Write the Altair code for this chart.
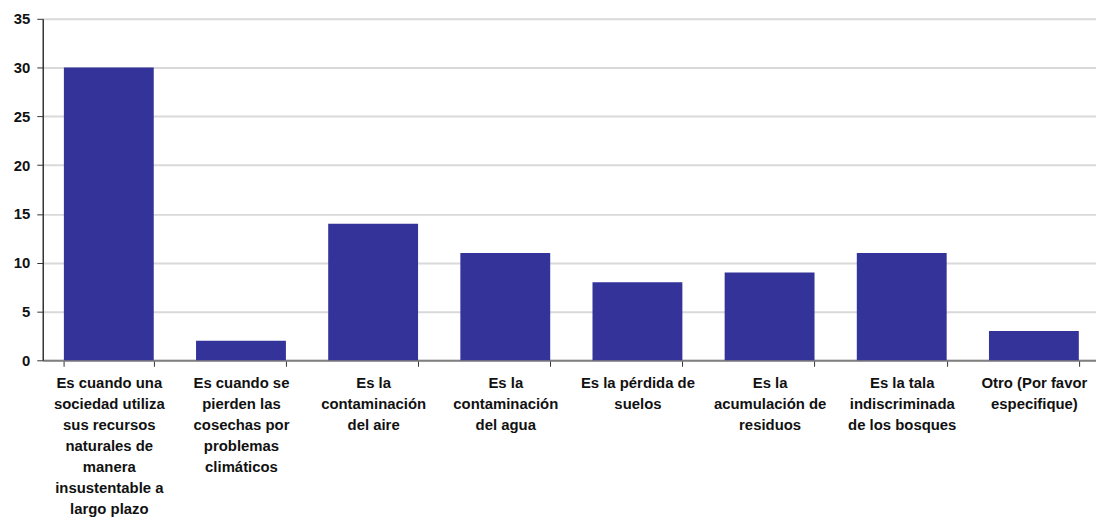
import altair as alt
import pandas as pd

categories = [
    "Es cuando una|sociedad utiliza|sus recursos|naturales de|manera|insustentable a|largo plazo",
    "Es cuando se|pierden las|cosechas por|problemas|climáticos",
    "Es la|contaminación|del aire",
    "Es la|contaminación|del agua",
    "Es la pérdida de|suelos",
    "Es la|acumulación de|residuos",
    "Es la tala|indiscriminada|de los bosques",
    "Otro (Por favor|especifique)",
]
values = [30, 2, 14, 11, 8, 9, 11, 3]

df = pd.DataFrame({"cat": categories, "val": values})

font = "Liberation Sans"

chart = alt.Chart(df).mark_bar(color="#333399").encode(
    x=alt.X(
        "cat:N",
        sort=categories,
        title=None,
        scale=alt.Scale(paddingInner=0.32, paddingOuter=0.16, range=[0, 1065]),
        axis=alt.Axis(
            labelExpr="split(datum.label, '|')",
            labelAngle=0,
            labelAlign="center",
            labelBaseline="top",
            labelFont=font,
            labelFontSize=15,
            labelFontWeight="bold",
            labelColor="#111111",
            labelLineHeight=21.2,
            labelLimit=0,
            labelPadding=9,
            tickBand="extent",
            tickSize=6,
            tickColor="#333333",
            domainColor="#808080",
            domainWidth=2,
            grid=False,
        ),
    ),
    y=alt.Y(
        "val:Q",
        title=None,
        scale=alt.Scale(domain=[0, 35]),
        axis=alt.Axis(
            values=[0, 5, 10, 15, 20, 25, 30, 35],
            labelFont=font,
            labelFontSize=15,
            labelFontWeight="bold",
            labelColor="#111111",
            labelPadding=7,
            tickSize=6,
            tickColor="#333333",
            domainColor="#333333",
            domainWidth=1.5,
            gridColor="#d9d9d9",
            gridWidth=2,
        ),
    ),
).properties(
    width=1061,
    height=344,
    padding={"left": 35, "top": 9, "right": 0, "bottom": 162},
    autosize=alt.AutoSizeParams(type="none"),
).configure_view(stroke=None)

chart.save("out.html", embed_options={"renderer": "svg", "actions": False})
